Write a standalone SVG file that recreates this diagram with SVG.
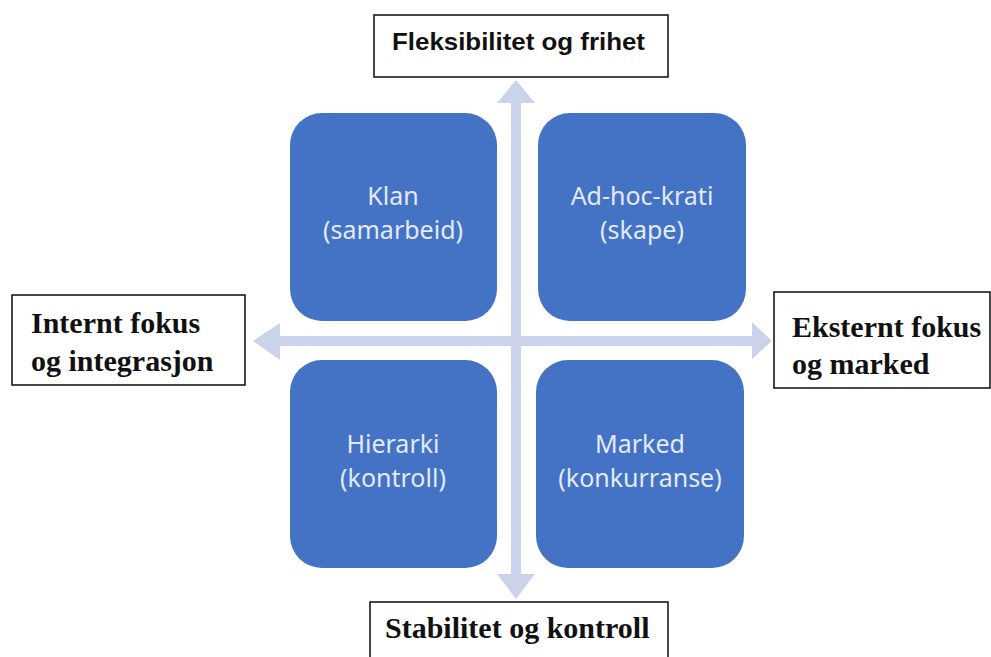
<svg xmlns="http://www.w3.org/2000/svg" width="991" height="657" viewBox="0 0 991 657">
<style>
.q{fill:#4472C4;}
.qt{font-family:"Noto Sans","Open Sans",sans-serif;font-size:25px;fill:#E3EAF7;text-anchor:middle;}
.lb{fill:#fff;stroke:#1a1a1a;stroke-width:1.6;}
.sr{font-family:"Liberation Serif",serif;font-weight:bold;font-size:30px;fill:#111;}
.ss{font-family:"Liberation Sans",sans-serif;font-weight:bold;font-size:24px;fill:#111;}
.ar{fill:#CBD3EA;}
</style>
<rect width="991" height="657" fill="#fff"/>
<g id="connectors">
<path class="ar" d="M516,80 L535,103 L521,103 L521,574 L535,574 L516,599 L497,574 L511,574 L511,103 L497,103 Z"/>
<path class="ar" d="M253,341 L280,323 L280,336 L752,336 L752,322 L772,341 L752,359 L752,346 L280,346 L280,360 Z"/>
</g>
<g id="klan">
<rect class="q" x="290" y="113" width="207" height="208" rx="32"/>
<text class="qt" x="393" y="205">Klan</text>
<text class="qt" x="393" y="239">(samarbeid)</text>
</g>
<g id="adhoc">
<rect class="q" x="538" y="113" width="208" height="208" rx="32"/>
<text class="qt" x="642" y="205">Ad-hoc-krati</text>
<text class="qt" x="642" y="239">(skape)</text>
</g>
<g id="hierarki">
<rect class="q" x="290" y="360" width="207" height="208" rx="32"/>
<text class="qt" x="393" y="453">Hierarki</text>
<text class="qt" x="393" y="487">(kontroll)</text>
</g>
<g id="marked">
<rect class="q" x="536" y="360" width="208" height="208" rx="32"/>
<text class="qt" x="640" y="453">Marked</text>
<text class="qt" x="640" y="487">(konkurranse)</text>
</g>
<g id="top-label">
<rect class="lb" x="374" y="15" width="294" height="62"/>
<text class="ss" x="392" y="50" textLength="253" lengthAdjust="spacingAndGlyphs">Fleksibilitet og frihet</text>
</g>
<g id="left-label">
<rect class="lb" x="12" y="295" width="233" height="90"/>
<text class="sr" x="31" y="333">Internt fokus</text>
<text class="sr" x="31" y="371">og integrasjon</text>
</g>
<g id="right-label">
<rect class="lb" x="774" y="292" width="216" height="96"/>
<text class="sr" x="792" y="337">Eksternt fokus</text>
<text class="sr" x="792" y="374">og marked</text>
</g>
<g id="bottom-label">
<rect class="lb" x="370" y="602" width="298" height="60"/>
<text class="sr" x="385" y="638">Stabilitet og kontroll</text>
</g>
</svg>
